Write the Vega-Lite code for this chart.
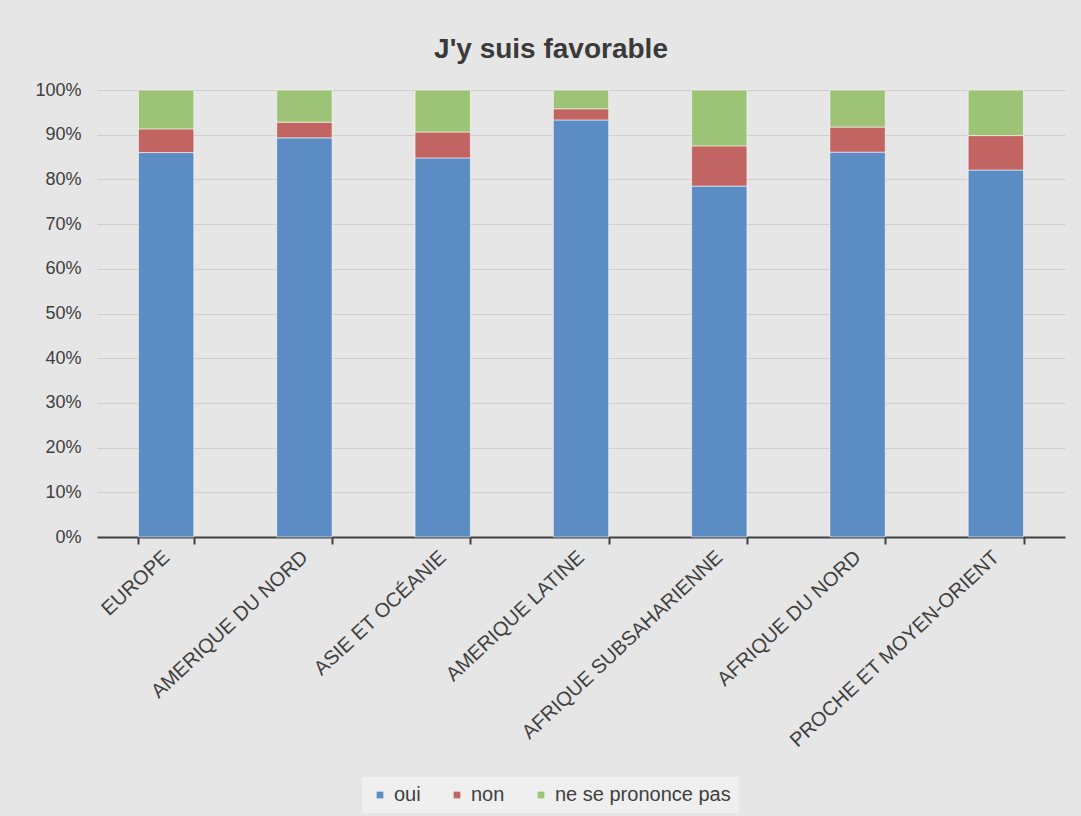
{
  "$schema": "https://vega.github.io/schema/vega-lite/v6.json",
  "autosize": {"type": "none"},
  "padding": {"left": 97, "top": 90, "right": 16, "bottom": 279},
  "width": 968,
  "height": 447,
  "background": "#e6e6e6",
  "title": {
    "text": "J'y suis favorable",
    "font": "Liberation Sans",
    "fontSize": 28,
    "fontWeight": "bold",
    "color": "#3a3a3a",
    "anchor": "middle",
    "baseline": "alphabetic",
    "dx": -30,
    "offset": -5
  },
  "data": {
    "values": [
      {"region": "EUROPE", "reponse": "oui", "rang": 1, "valeur": 0.86},
      {"region": "EUROPE", "reponse": "non", "rang": 2, "valeur": 0.053},
      {"region": "EUROPE", "reponse": "ne se prononce pas", "rang": 3, "valeur": 0.087},
      {"region": "AMERIQUE DU NORD", "reponse": "oui", "rang": 1, "valeur": 0.893},
      {"region": "AMERIQUE DU NORD", "reponse": "non", "rang": 2, "valeur": 0.035},
      {"region": "AMERIQUE DU NORD", "reponse": "ne se prononce pas", "rang": 3, "valeur": 0.072},
      {"region": "ASIE ET OCÉANIE", "reponse": "oui", "rang": 1, "valeur": 0.848},
      {"region": "ASIE ET OCÉANIE", "reponse": "non", "rang": 2, "valeur": 0.058},
      {"region": "ASIE ET OCÉANIE", "reponse": "ne se prononce pas", "rang": 3, "valeur": 0.094},
      {"region": "AMERIQUE LATINE", "reponse": "oui", "rang": 1, "valeur": 0.933},
      {"region": "AMERIQUE LATINE", "reponse": "non", "rang": 2, "valeur": 0.025},
      {"region": "AMERIQUE LATINE", "reponse": "ne se prononce pas", "rang": 3, "valeur": 0.042},
      {"region": "AFRIQUE SUBSAHARIENNE", "reponse": "oui", "rang": 1, "valeur": 0.785},
      {"region": "AFRIQUE SUBSAHARIENNE", "reponse": "non", "rang": 2, "valeur": 0.09},
      {"region": "AFRIQUE SUBSAHARIENNE", "reponse": "ne se prononce pas", "rang": 3, "valeur": 0.125},
      {"region": "AFRIQUE DU NORD", "reponse": "oui", "rang": 1, "valeur": 0.861},
      {"region": "AFRIQUE DU NORD", "reponse": "non", "rang": 2, "valeur": 0.056},
      {"region": "AFRIQUE DU NORD", "reponse": "ne se prononce pas", "rang": 3, "valeur": 0.083},
      {"region": "PROCHE ET MOYEN-ORIENT", "reponse": "oui", "rang": 1, "valeur": 0.821},
      {"region": "PROCHE ET MOYEN-ORIENT", "reponse": "non", "rang": 2, "valeur": 0.077},
      {"region": "PROCHE ET MOYEN-ORIENT", "reponse": "ne se prononce pas", "rang": 3, "valeur": 0.102}
    ]
  },
  "mark": {"type": "bar", "stroke": "#ffffff", "strokeOpacity": 0.55, "strokeWidth": 1},
  "encoding": {
    "x": {
      "field": "region",
      "type": "nominal",
      "sort": ["EUROPE", "AMERIQUE DU NORD", "ASIE ET OCÉANIE", "AMERIQUE LATINE", "AFRIQUE SUBSAHARIENNE", "AFRIQUE DU NORD", "PROCHE ET MOYEN-ORIENT"],
      "scale": {"paddingInner": 0.6, "paddingOuter": 0.3},
      "axis": {
        "title": null,
        "labelAngle": -43,
        "labelAlign": "right",
        "labelBaseline": "middle",
        "labelFont": "Liberation Sans",
        "labelFontSize": 20,
        "labelColor": "#404040",
        "labelPadding": 10,
        "labelLimit": 0,
        "labelOverlap": false,
        "domainColor": "#404040",
        "domainWidth": 2,
        "tickBand": "extent",
        "tickColor": "#404040",
        "tickWidth": 2,
        "tickSize": 7,
        "grid": false
      }
    },
    "y": {
      "field": "valeur",
      "type": "quantitative",
      "stack": "zero",
      "scale": {"domain": [0, 1], "nice": false},
      "axis": {
        "title": null,
        "format": ".0%",
        "values": [0, 0.1, 0.2, 0.3, 0.4, 0.5, 0.6, 0.7, 0.8, 0.9, 1],
        "labelOverlap": false,
        "labelFont": "Liberation Sans",
        "labelFontSize": 18,
        "labelColor": "#404040",
        "labelPadding": 16,
        "domain": false,
        "ticks": false,
        "grid": true,
        "gridColor": "#cfcfcf",
        "gridWidth": 1
      }
    },
    "color": {
      "field": "reponse",
      "type": "nominal",
      "scale": {
        "domain": ["oui", "non", "ne se prononce pas"],
        "range": ["#5b8cc4", "#c26461", "#9dc377"]
      },
      "legend": {
        "title": null,
        "orient": "none",
        "direction": "horizontal",
        "legendX": 265,
        "legendY": 687,
        "fillColor": "#efefef",
        "padding": 8,
        "symbolType": "square",
        "symbolSize": 45,
        "symbolStrokeWidth": 0,
        "labelFont": "Liberation Sans",
        "labelFontSize": 20,
        "labelColor": "#404040",
        "labelOffset": 4,
        "labelLimit": 0,
        "columnPadding": 26
      }
    },
    "order": {"field": "rang", "type": "quantitative"}
  },
  "config": {"view": {"stroke": null}}
}
